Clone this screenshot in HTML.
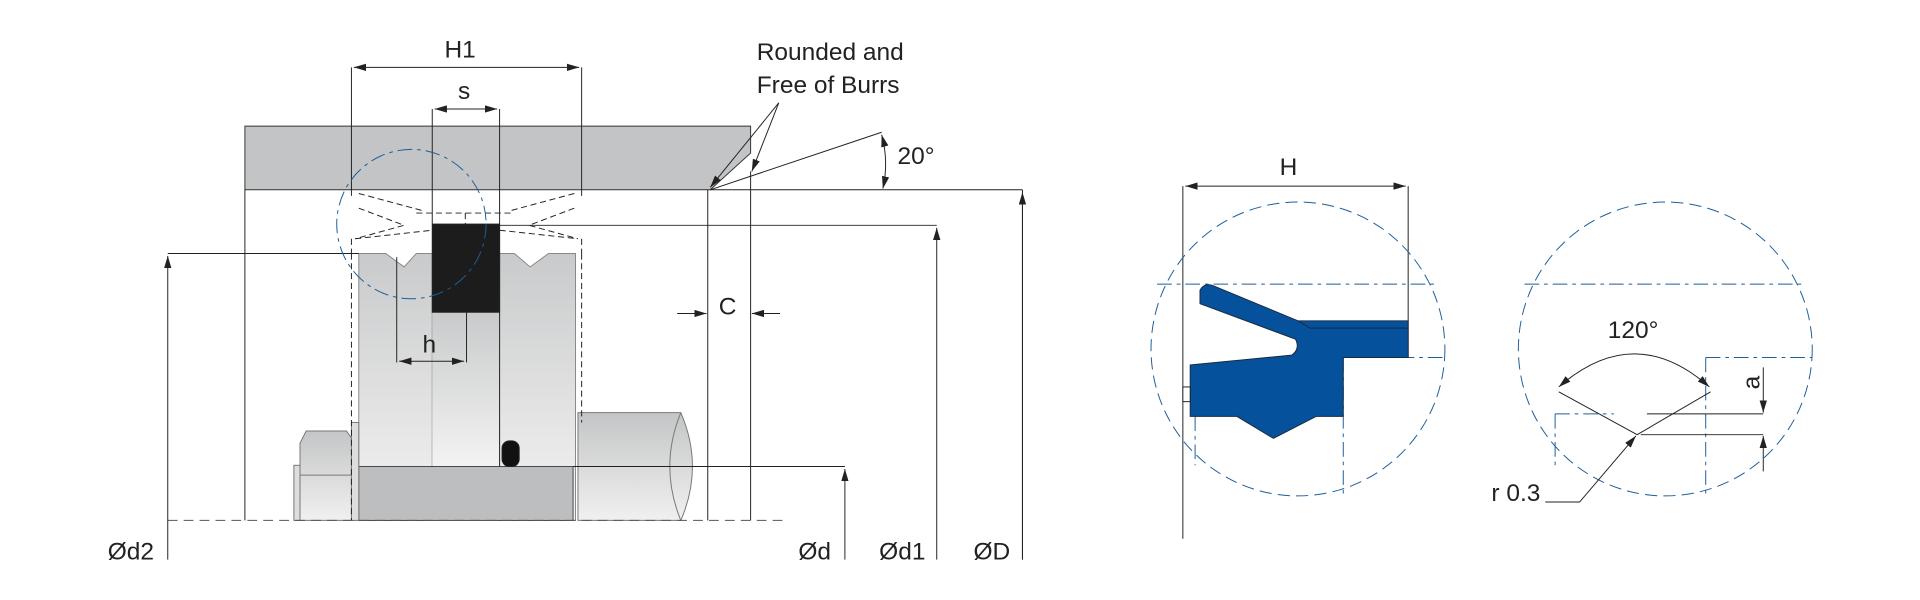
<!DOCTYPE html>
<html><head><meta charset="utf-8"><style>html,body{margin:0;padding:0;background:#fff;width:1920px;height:600px;overflow:hidden}svg{display:block}text{font-family:"Liberation Sans",sans-serif;fill:#222}</style></head>
<body>
<svg width="1920" height="600" viewBox="0 0 1568 490" preserveAspectRatio="none" xmlns="http://www.w3.org/2000/svg">
<defs>
<linearGradient id="g1" x1="0" y1="0" x2="0" y2="1"><stop offset="0" stop-color="#c9cacb"/><stop offset="1" stop-color="#f4f4f4"/></linearGradient>
<linearGradient id="g2" x1="0" y1="0" x2="0" y2="1"><stop offset="0" stop-color="#c4c5c6"/><stop offset="1" stop-color="#f0f0f0"/></linearGradient>
<marker id="a" viewBox="0 0 10 6" refX="10" refY="3" markerWidth="10" markerHeight="6" orient="auto-start-reverse" markerUnits="userSpaceOnUse"><path d="M0,0L10,3L0,6z" fill="#222"/></marker>
</defs>
<g stroke="#222" stroke-width="0.8" fill="none">
<path d="M293,207 L315,207 L330,218 L340,207 L353,207 L353,425 L293,425Z" fill="url(#g1)" stroke="#888"/>
<path d="M408,207 L420,207 L433,218 L448,207 L470,207 L470,425 L408,425Z" fill="url(#g1)" stroke="#888"/>
<rect x="353" y="255" width="55" height="130" fill="url(#g1)" stroke="none"/>
<polygon points="200,103 613,103 613,125 580,155 200,155" fill="#c3c4c5" stroke="#333"/>
<rect x="353" y="183" width="55" height="72" fill="#1c1c1c"/>
<rect x="293" y="381" width="175" height="44" fill="#bdbebf" stroke="#444"/>
<rect x="410" y="360" width="14" height="21" rx="6" fill="#111"/>
<path d="M250,352 L283,352 L290,362 L290,425 L245,425 L245,362Z" fill="url(#g2)" stroke="#777"/>
<line x1="245" y1="388" x2="290" y2="388" stroke="#777"/>
<rect x="240" y="380" width="5" height="45" fill="#ddd" stroke="#777"/>
<rect x="287" y="345" width="6" height="80" fill="#ddd" stroke="#777"/>
<path d="M472,337 L556,337 Q575,381 556,425 L472,425Z" fill="url(#g2)" stroke="#777"/>
<path d="M556,337 Q538,381 556,425" stroke="#777"/>
<path d="M293,158 L345,172 M293,170 L330,184 L290,195 M469,158 L417,172 M469,170 L432,184 L472,195 M340,174 L420,174 M290,195 L353,188 M408,188 L472,195 M287,195 L287,207 M475,195 L475,207 M287,207 L287,425 M475,207 L475,345 M380,174 L380,183" stroke-dasharray="5,3"/>
<line x1="287" y1="55" x2="287" y2="160"/><line x1="475" y1="55" x2="475" y2="160"/>
<line x1="289" y1="55" x2="473" y2="55" marker-start="url(#a)" marker-end="url(#a)"/>
<line x1="353" y1="89" x2="353" y2="183"/><line x1="408" y1="89" x2="408" y2="381"/>
<line x1="355" y1="89" x2="406" y2="89" marker-start="url(#a)" marker-end="url(#a)"/>
<line x1="324" y1="210" x2="324" y2="296"/><line x1="381" y1="255" x2="381" y2="296"/>
<line x1="326" y1="295" x2="379" y2="295" marker-start="url(#a)" marker-end="url(#a)"/>
<line x1="200" y1="155" x2="200" y2="425"/>
<line x1="578" y1="155" x2="578" y2="425"/><line x1="613" y1="140" x2="613" y2="425"/>
<line x1="553" y1="256" x2="577" y2="256" marker-end="url(#a)"/>
<line x1="637" y1="256" x2="614" y2="256" marker-end="url(#a)"/>
<line x1="137" y1="425" x2="640" y2="425" stroke-dasharray="8,5" stroke="#555"/>
<line x1="580" y1="155" x2="835" y2="155"/>
<line x1="580" y1="155" x2="720" y2="108"/>
<path d="M720,110 Q726,132 721,154" marker-start="url(#a)" marker-end="url(#a)"/>
<line x1="636" y1="84" x2="580" y2="153" marker-end="url(#a)"/>
<line x1="636" y1="84" x2="614" y2="140" marker-end="url(#a)"/>
<line x1="137" y1="207" x2="293" y2="207"/><line x1="137" y1="457" x2="137" y2="209" marker-end="url(#a)"/>
<line x1="468" y1="381" x2="690" y2="381"/><line x1="690" y1="457" x2="690" y2="383" marker-end="url(#a)"/>
<line x1="408" y1="184" x2="765" y2="184"/><line x1="765" y1="457" x2="765" y2="186" marker-end="url(#a)"/>
<line x1="835" y1="155" x2="835" y2="457"/><line x1="835" y1="457" x2="835" y2="157" marker-end="url(#a)"/>
<circle cx="336" cy="183" r="61" stroke="#1d5e99" stroke-dasharray="12,4,3,4"/>
<line x1="966" y1="152" x2="966" y2="440"/><line x1="1150" y1="152" x2="1150" y2="292"/>
<line x1="968" y1="152" x2="1148" y2="152" marker-start="url(#a)" marker-end="url(#a)"/>
<circle cx="1060" cy="285" r="120" stroke="#1d5e99" stroke-dasharray="10,5"/>
<g stroke="#1d5e99" stroke-dasharray="12,4,3,4"><line x1="945" y1="232" x2="1175" y2="232"/><line x1="1097" y1="292" x2="1182" y2="292"/><line x1="1097" y1="292" x2="1097" y2="405"/><line x1="976" y1="340" x2="976" y2="380"/></g>
<path d="M980,237 Q983,231 990,233 L1060,262 L1150,262 L1150,292 L1097,292 L1097,340 L1075,340 L1040,358 L1010,340 L972,340 L972,298 L1055,290 Q1062,285 1058,277 L980,248Z" fill="#06519b" stroke="#1a2a40"/>
<line x1="1060" y1="262" x2="1070" y2="268" stroke="#1a2a40"/><line x1="1070" y1="268" x2="1150" y2="268" stroke="#1a2a40"/>
<rect x="966" y="316" width="6" height="12" fill="#fff"/>
<circle cx="1360" cy="285" r="120" stroke="#1d5e99" stroke-dasharray="10,5"/>
<g stroke="#1d5e99" stroke-dasharray="12,4,3,4"><line x1="1245" y1="232" x2="1475" y2="232"/><line x1="1393" y1="292" x2="1480" y2="292"/><line x1="1393" y1="292" x2="1393" y2="405"/><line x1="1270" y1="338" x2="1318" y2="338"/><line x1="1270" y1="338" x2="1270" y2="380"/></g>
<path d="M1273,316 Q1335,262 1396,316" marker-start="url(#a)" marker-end="url(#a)"/>
<polyline points="1273,320 1337,355 1397,320"/>
<line x1="1345" y1="338" x2="1440" y2="338"/><line x1="1340" y1="355" x2="1440" y2="355"/>
<line x1="1440" y1="300" x2="1440" y2="337" marker-end="url(#a)"/>
<line x1="1440" y1="385" x2="1440" y2="356" marker-end="url(#a)"/>
<polyline points="1262,410 1290,410 1336,356" marker-end="url(#a)"/>
</g>
<g font-size="20">
<text x="363" y="47">H1</text><text x="374" y="81">s</text><text x="345" y="288">h</text>
<text x="587" y="257">C</text><text x="733" y="134">20°</text>
<text x="618" y="49">Rounded and</text><text x="618" y="76">Free of Burrs</text>
<text x="88" y="457">Ød2</text><text x="652" y="457">Ød</text><text x="718" y="457">Ød1</text><text x="795" y="457">ØD</text>
<text x="1045" y="143">H</text><text x="1313" y="276">120°</text><text x="1218" y="409">r 0.3</text>
<text x="0" y="0" transform="translate(1437,318) rotate(-90)">a</text>
</g>
</svg>
</body></html>
